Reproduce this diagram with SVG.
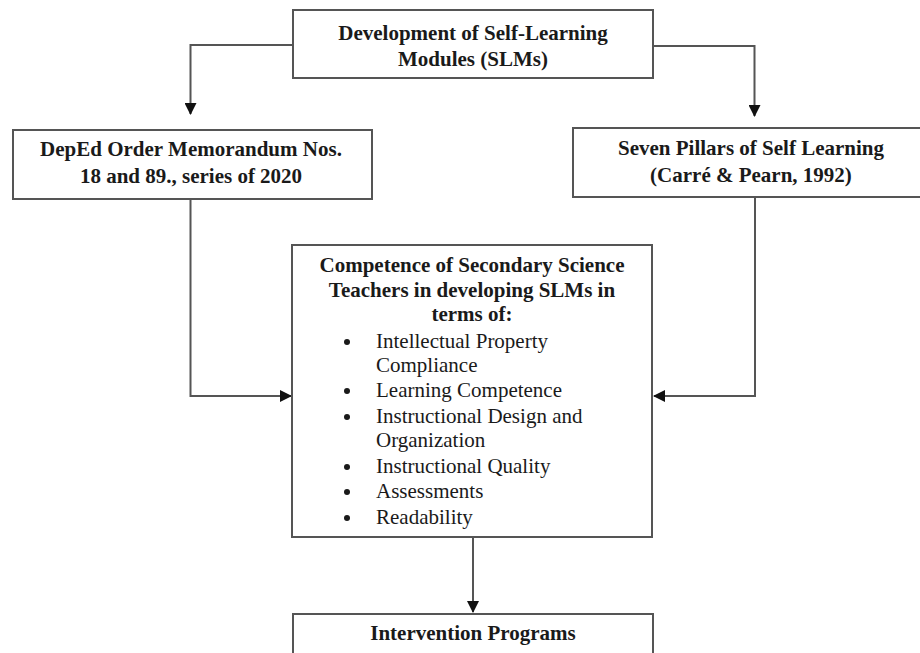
<svg xmlns="http://www.w3.org/2000/svg" width="920" height="653" viewBox="0 0 920 653">
<defs>
<marker id="arr" markerWidth="12" markerHeight="12" refX="11" refY="6" orient="auto" markerUnits="userSpaceOnUse">
<path d="M0,0 L12,6 L0,12 Z" fill="#111"/>
</marker>
<style>
.box{fill:#fff;stroke:#555;stroke-width:2}
.b{font-family:"Liberation Serif","Times New Roman",serif;font-weight:bold;font-size:21px;fill:#1a1a1a;text-anchor:middle}
.r{font-family:"Liberation Serif","Times New Roman",serif;font-size:21px;fill:#1a1a1a}
.ln{fill:none;stroke:#555;stroke-width:2}
</style>
</defs>
<rect width="920" height="653" fill="#fff"/>
<g id="connectors">
<path class="ln" d="M293,45 H190.5 V114" marker-end="url(#arr)"/>
<path class="ln" d="M653,46 H754.5 V116" marker-end="url(#arr)"/>
<path class="ln" d="M190.5,199 V396 H291" marker-end="url(#arr)"/>
<path class="ln" d="M755,197 V396 H654" marker-end="url(#arr)"/>
<path class="ln" d="M473,537 V612" marker-end="url(#arr)"/>
</g>
<g id="dev">
<rect class="box" x="293" y="10" width="360" height="68"/>
<text class="b" x="473" y="40">Development of Self-Learning</text>
<text class="b" x="473" y="66">Modules (SLMs)</text>
</g>
<g id="deped">
<rect class="box" x="13" y="130" width="359" height="69"/>
<text class="b" x="191" y="156">DepEd Order Memorandum Nos.</text>
<text class="b" x="191" y="183">18 and 89., series of 2020</text>
</g>
<g id="pillars">
<rect class="box" x="573" y="128" width="360" height="69"/>
<text class="b" x="751" y="155">Seven Pillars of Self Learning</text>
<text class="b" x="751" y="182">(Carré &amp; Pearn, 1992)</text>
</g>
<g id="competence">
<rect class="box" x="292" y="245" width="360" height="292"/>
<text class="b" x="472" y="272">Competence of Secondary Science</text>
<text class="b" x="472" y="297">Teachers in developing SLMs in</text>
<text class="b" x="472" y="321">terms of:</text>
<g class="r">
<circle cx="347" cy="342" r="3" fill="#1a1a1a"/>
<text x="376" y="348">Intellectual Property</text>
<text x="376" y="372">Compliance</text>
<circle cx="347" cy="391" r="3" fill="#1a1a1a"/>
<text x="376" y="397">Learning Competence</text>
<circle cx="347" cy="417" r="3" fill="#1a1a1a"/>
<text x="376" y="423">Instructional Design and</text>
<text x="376" y="447">Organization</text>
<circle cx="347" cy="467" r="3" fill="#1a1a1a"/>
<text x="376" y="473">Instructional Quality</text>
<circle cx="347" cy="492" r="3" fill="#1a1a1a"/>
<text x="376" y="498">Assessments</text>
<circle cx="347" cy="518" r="3" fill="#1a1a1a"/>
<text x="376" y="524">Readability</text>
</g>
</g>
<g id="intervention">
<rect class="box" x="293" y="614" width="360" height="60"/>
<text class="b" x="473" y="640">Intervention Programs</text>
</g>
</svg>
